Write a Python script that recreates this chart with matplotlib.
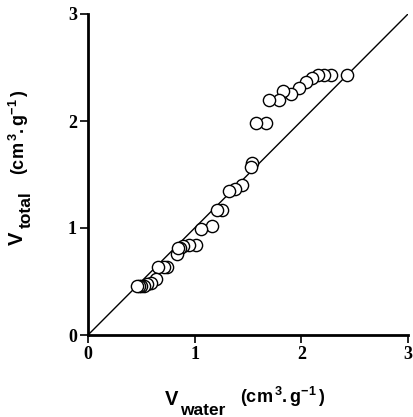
import matplotlib
matplotlib.use("Agg")
import matplotlib.pyplot as plt
import numpy as np

plt.rcParams['mathtext.fontset'] = 'custom'
plt.rcParams['mathtext.rm'] = 'Liberation Sans:bold'
plt.rcParams['mathtext.it'] = 'Liberation Sans:bold'
plt.rcParams['mathtext.bf'] = 'Liberation Sans:bold'

v_water = [2.425, 2.28, 2.21, 2.16, 2.10, 2.04, 1.98, 1.90, 1.83, 1.79, 1.70,
           1.67, 1.575, 1.54, 1.53, 1.44, 1.38, 1.32, 1.26, 1.21, 1.16, 1.06,
           1.01, 0.95, 0.89, 0.86, 0.83, 0.84, 0.74, 0.71, 0.66, 0.64, 0.59,
           0.55, 0.525, 0.50, 0.48, 0.46]
v_total = [2.43, 2.43, 2.43, 2.43, 2.40, 2.36, 2.31, 2.25, 2.28, 2.20, 2.20,
           1.98, 1.98, 1.61, 1.57, 1.40, 1.36, 1.35, 1.17, 1.17, 1.02, 0.99,
           0.84, 0.84, 0.83, 0.81, 0.76, 0.81, 0.64, 0.64, 0.64, 0.52, 0.49,
           0.48, 0.46, 0.46, 0.46, 0.46]
ticks = [0, 1, 2, 3]
tick_labels = ['0', '1', '2', '3']

W, H = 413, 417
fig = plt.figure(figsize=(W/100, H/100), dpi=100)
ax = fig.add_axes([88/W, 1-335/H, 320/W, 321/H])
ax.plot([0, 3], [0, 3], color='black', lw=1.0, zorder=1)
ax.plot(v_water, v_total, 'o', ms=8.8, mfc='white', mec='black', mew=1.0, zorder=2)
ax.set_xlim(0, 3)
ax.set_ylim(0, 3)
for s in ['top', 'right']:
    ax.spines[s].set_visible(False)
for s in ['left', 'bottom']:
    ax.spines[s].set_linewidth(2)
ax.set_xticks(ticks)
ax.set_yticks(ticks)
ax.set_xticklabels(tick_labels, fontfamily='Liberation Serif', fontweight='bold', fontsize=13)
ax.set_yticklabels(tick_labels, fontfamily='Liberation Serif', fontweight='bold', fontsize=13)
ax.tick_params(direction='out', length=6, width=1.2, pad=2)

def px(x, y):
    return x / W, 1 - y / H

sans = dict(family='Liberation Sans', weight='bold')
units = r'$\mathrm{(cm^{\,3}.g^{-1}\,)}$'
# x label
fig.text(*px(165, 405), 'V', fontsize=14.5, ha='left', va='baseline', **sans)
fig.text(*px(180, 415), 'water', fontsize=12.5, ha='left', va='baseline', **sans)
fig.text(*px(240, 403), units, fontsize=13, ha='left', va='baseline')
# y label
fig.text(*px(23, 245), 'V', fontsize=14.5, ha='left', va='baseline',
         rotation=90, rotation_mode='anchor', **sans)
fig.text(*px(31, 228), 'total', fontsize=12.5, ha='left', va='baseline',
         rotation=90, rotation_mode='anchor', **sans)
fig.text(*px(25, 175), units, fontsize=13, ha='left', va='baseline',
         rotation=90, rotation_mode='anchor')

fig.savefig('out.png', dpi=100)
